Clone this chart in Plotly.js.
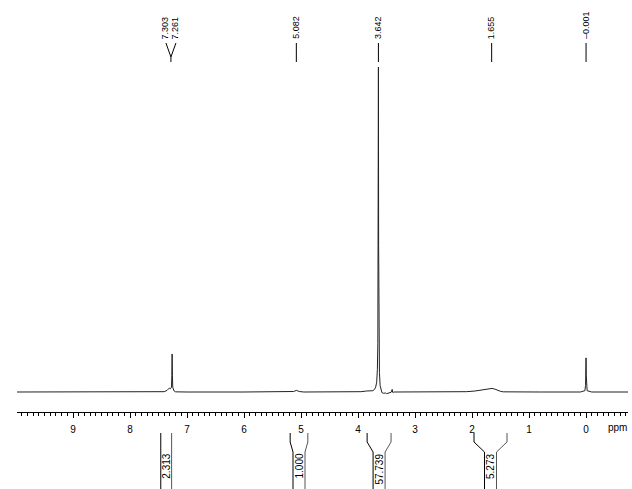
<!DOCTYPE html>
<html>
<head>
<meta charset="utf-8">
<script src="https://cdn.plot.ly/plotly-3.0.1.min.js"></script>
<style>
  body { margin: 0; background: #fff; }
  #nmr { width: 632px; height: 489px; }
</style>
</head>
<body>
<div id="nmr"></div>
<script>
// 1H spectrum (intensity in % of the tallest peak)
const ppm = [10.0, 9.0, 8.0, 7.45, 7.40, 7.35, 7.31, 7.29, 7.272, 7.266, 7.261, 7.256, 7.25, 7.23, 7.20,
    7.0, 6.0, 5.2, 5.13, 5.08, 5.03, 4.95, 4.2, 3.95, 3.85, 3.78, 3.74, 3.71, 3.69, 3.672, 3.660,
    3.652, 3.646, 3.642, 3.638, 3.632, 3.624, 3.612, 3.595, 3.58, 3.55, 3.52, 3.50, 3.46, 3.42,
    3.400, 3.392, 3.36, 3.0, 2.5, 2.45, 2.4, 2.1, 1.95, 1.85, 1.75, 1.68, 1.65, 1.6, 1.55, 1.5,
    1.45, 1.3, 0.8, 0.1, 0.02, 0.008, 0.003, -0.001, -0.005, -0.01, -0.02, -0.1, -0.74];
const intensity = [0, 0, 0, 0, 0.1, 0.5, 1.2, 1.0, 1.5, 5, 11.7, 5, 1.5, 0.4, 0.05,
    0, 0, 0, 0.15, 0.5, 0.15, 0, 0, 0.1, 0.3, 0.5, 0.4, 0.8, 1.5, 3, 7,
    15, 45, 100, 45, 15, 6, 2, 0.5, -0.2, -0.4, -0.3, -0.5, -0.2, -0.1,
    0.8, -0.1, 0, 0, 0.1, 0.2, 0.1, 0.1, 0.3, 0.6, 0.9, 1.1, 1.1, 0.9, 0.5, 0.2,
    0.05, 0, 0, 0, 0.4, 2, 5, 10.5, 5, 2, 0.4, 0, 0];

// peak picking labels
const peakPpm = [7.303, 7.261, 5.082, 3.642, 1.655, -0.001];
const peakText = ['7.303', '7.261', '5.082', '3.642', '1.655', '\u20130.001'];

// integrals
const intFrom = [7.46, 5.19, 3.84, 1.965];
const intTo = [7.27, 4.88, 3.42, 1.386];
const intText = ['2.313', '1.000', '57.739', '5.273'];

const W = 632, H = 489;
const M = { l: 17, r: 4, t: 62, b: 77 };
const plotH = H - M.t - M.b;
const pxPerPpm = 57;
const font = 'Liberation Sans, Arial, Helvetica, sans-serif';

// pixel row -> paper y
function py(pix) { return (H - M.b - pix) / plotH; }

const shapes = [];
const annotations = [];

// spread close peak labels apart
const minGap = 10 / pxPerPpm;
const labelX = peakPpm.slice();
let groups = [];
let cur = [0];
for (let i = 1; i < peakPpm.length; i++) {
    if (Math.abs(peakPpm[i] - peakPpm[i - 1]) < minGap) cur.push(i);
    else { groups.push(cur); cur = [i]; }
}
groups.push(cur);
groups.forEach(function (g) {
    const mean = g.reduce((s, i) => s + peakPpm[i], 0) / g.length;
    g.forEach(function (i, k) {
        labelX[i] = mean + ((g.length - 1) / 2 - k) * minGap;
        if (g.length > 1) {
            shapes.push({ type: 'line', xref: 'x', yref: 'paper', x0: labelX[i], x1: mean,
                y0: py(43), y1: py(57), line: { color: '#000', width: 1 } });
        }
    });
    shapes.push({ type: 'line', xref: 'x', yref: 'paper', x0: mean, x1: mean,
        y0: py(g.length > 1 ? 57 : 43), y1: py(62), line: { color: '#000', width: 1 } });
});
peakPpm.forEach(function (p, i) {
    annotations.push({
        x: labelX[i], y: py(41), xref: 'x', yref: 'paper',
        text: peakText[i], textangle: -90, showarrow: false,
        xanchor: 'center', yanchor: 'bottom',
        font: { family: font, size: 9, color: '#000' }
    });
});

// integral brackets
const halfBand = 6 / pxPerPpm;
intFrom.forEach(function (a, i) {
    const b = intTo[i];
    const mid = (a + b) / 2;
    const half = Math.min(halfBand, (a - b) / 2);
    const inL = mid + half, inR = mid - half;
    shapes.push({ type: 'path', xref: 'x', yref: 'paper',
        path: 'M' + a + ',' + py(433) + ' L' + a + ',' + py(442) + ' L' + inL + ',' + py(452) + ' L' + inL + ',' + py(492),
        line: { color: '#000', width: 1 } });
    shapes.push({ type: 'path', xref: 'x', yref: 'paper',
        path: 'M' + b + ',' + py(433) + ' L' + b + ',' + py(442) + ' L' + inR + ',' + py(452) + ' L' + inR + ',' + py(492),
        line: { color: '#555', width: 1 } });
    annotations.push({
        x: mid, y: py(452), xref: 'x', yref: 'paper',
        text: intText[i], textangle: -90, showarrow: false,
        xanchor: 'center', yanchor: 'top',
        font: { family: font, size: 10, color: '#000' }
    });
});

// axis unit
annotations.push({
    x: -0.56, y: py(427), xref: 'x', yref: 'paper', text: 'ppm', showarrow: false,
    xanchor: 'center', yanchor: 'middle', font: { family: font, size: 10, color: '#000' }
});

const xLeft = (586 - M.l) / pxPerPpm;
const xRight = (586 - (W - M.r)) / pxPerPpm;
const yPerPx = 100 / 325;

const trace = {
    x: ppm, y: intensity, type: 'scatter', mode: 'lines',
    line: { color: '#222', width: 1 }, hoverinfo: 'skip'
};

const layout = {
    width: W, height: H,
    margin: M,
    paper_bgcolor: '#fff', plot_bgcolor: '#fff',
    showlegend: false,
    font: { family: font, size: 10, color: '#000' },
    xaxis: {
        range: [xLeft, xRight],
        showline: true, linecolor: '#000', linewidth: 1,
        ticks: 'outside', ticklen: 5, tickcolor: '#000', tickwidth: 1,
        tick0: 0, dtick: 1,
        minor: { dtick: 0.1, ticks: 'outside', ticklen: 3, tickcolor: '#000' },
        showgrid: false, zeroline: false,
        tickfont: { family: font, size: 10, color: '#000' },
        ticklabelstandoff: 3
    },
    yaxis: {
        range: [-20 * yPerPx, (392 - M.t) * yPerPx],
        visible: false, showgrid: false, zeroline: false
    },
    shapes: shapes,
    annotations: annotations
};

Plotly.newPlot('nmr', [trace], layout, { displayModeBar: false, staticPlot: true });
</script>
</body>
</html>
